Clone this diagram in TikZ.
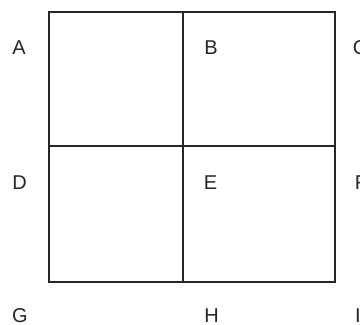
\documentclass[tikz,border=0pt]{standalone}
\usepackage{fontspec}
\setmainfont{Liberation Sans}
\begin{document}
\begin{tikzpicture}[x=1pt,y=1pt,
  gridline/.style={line width=1.4pt,draw=black!85},
  lbl/.style={inner sep=0pt,font=\fontsize{20}{20}\selectfont,text=black!85}]
\useasboundingbox (0,0) rectangle (360,325);
\clip (0,0) rectangle (360,325);
\fill[white] (0,0) rectangle (360,325);
\coordinate (tl) at (49,313);
\coordinate (br) at (335,43);
\coordinate (mt) at (183,313);
\coordinate (mb) at (183,43);
\coordinate (ml) at (49,179);
\coordinate (mr) at (335,179);
\draw[gridline] (tl) rectangle (br);
\draw[gridline] (mt) -- (mb);
\draw[gridline] (ml) -- (mr);
\node[lbl] (A) at (19,277.5) {A};
\node[lbl] (B) at (211,277.5) {B};
\node[lbl] (C) at (360,277) {C};
\node[lbl] (D) at (19.5,142) {D};
\node[lbl] (E) at (210.5,142) {E};
\node[lbl] (F) at (361,142) {F};
\node[lbl] (G) at (20,9.5) {G};
\node[lbl] (H) at (211.5,9.5) {H};
\node[lbl] (I) at (358,9.5) {I};
\end{tikzpicture}
\end{document}
